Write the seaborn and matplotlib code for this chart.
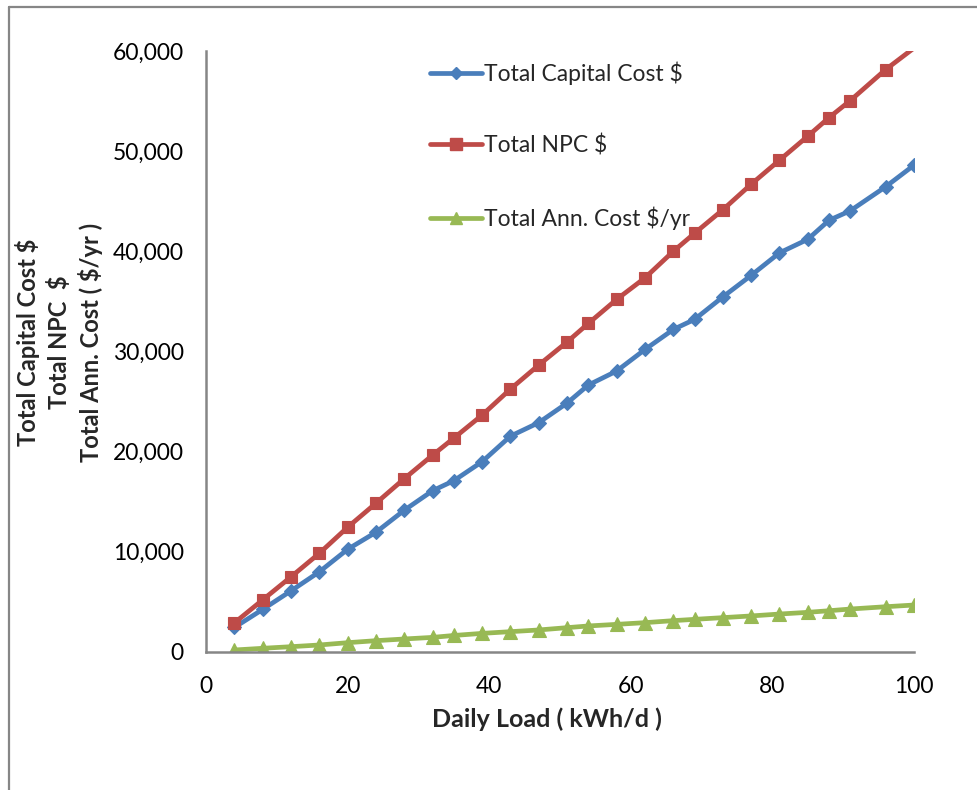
import matplotlib
matplotlib.use("Agg")
import matplotlib.pyplot as plt
from matplotlib.lines import Line2D
from matplotlib.ticker import FuncFormatter, MultipleLocator
import pandas as pd
import seaborn as sns

# Daily load (kWh/d) and the three cost series
daily_load = [4, 8, 12, 16, 20, 24, 28, 32, 35, 39, 43, 47, 51, 54, 58, 62, 66, 69,
              73, 77, 81, 85, 88, 91, 96, 100]
capital_cost = [2450, 4250, 6100, 8000, 10250, 11950, 14150, 16100, 17100, 19000,
                21550, 22900, 24850, 26650, 28050, 30200, 32200, 33200, 35450, 37600,
                39850, 41200, 43100, 44050, 46450, 48600]
npc = [2900, 5200, 7500, 9850, 12450, 14850, 17300, 19650, 21350, 23650, 26250,
       28650, 30950, 32800, 35200, 37350, 40000, 41800, 44150, 46700, 49100, 51500,
       53350, 55050, 58150, 60300]
annual_cost = [200, 370, 530, 700, 930, 1130, 1300, 1460, 1650, 1860, 2030, 2200,
               2430, 2600, 2760, 2930, 3130, 3260, 3430, 3600, 3790, 3960, 4120,
               4290, 4520, 4690]

series_names = ["Total Capital Cost $", "Total NPC $", "Total Ann. Cost $/yr"]
series_values = [capital_cost, npc, annual_cost]
colors = ["#4A7EBB", "#BE4B48", "#98B954"]
markers = ["D", "s", "^"]
marker_sizes = [6.8, 9.0, 9.5]

y_max = 60000

sns.set_theme(style="white")
plt.rcParams["font.family"] = ["Lato", "DejaVu Sans"]

fig = plt.figure(figsize=(9.78, 7.9), dpi=100)
ax = fig.add_axes([206 / 978, 1 - 652 / 790, (914 - 206) / 978, (652 - 51) / 790])

for name, vals, col, mk, ms in zip(series_names, series_values, colors, markers, marker_sizes):
    df = pd.DataFrame({"load": daily_load, "cost": vals})
    shown = [i for i, v in enumerate(vals) if v <= y_max]
    sns.lineplot(data=df, x="load", y="cost", ax=ax, color=col, linewidth=3.4,
                 marker=mk, markersize=ms, markeredgecolor=col, markeredgewidth=0.8,
                 markevery=shown, label=name, legend=False)

ax.set_xlim(0, 100)
ax.set_ylim(0, y_max)
ax.xaxis.set_major_locator(MultipleLocator(20))
ax.yaxis.set_major_locator(MultipleLocator(10000))
ax.yaxis.set_major_formatter(FuncFormatter(lambda v, p: f"{int(v):,}"))
ax.tick_params(axis="both", length=0, labelsize=16.5, colors="black")
ax.tick_params(axis="x", pad=17)
ax.tick_params(axis="y", pad=16)

for side in ["top", "right"]:
    ax.spines[side].set_visible(False)
for side in ["left", "bottom"]:
    ax.spines[side].set_color("#868686")
    ax.spines[side].set_linewidth(1.8)

ax.set_xlabel("Daily Load ( kWh/d )", fontsize=18, fontweight="bold")
ax.xaxis.set_label_coords(0.482, -0.092)
ax.set_ylabel("Total Capital Cost $\nTotal NPC  $\nTotal Ann. Cost ( $/yr )",
              fontsize=17, fontweight="bold", linespacing=1.34,
              multialignment="center")
ax.yaxis.set_label_coords(-0.145, 0.515)

handles = [Line2D([], [], color=c, lw=3.4, marker=m, markersize=s * 0.9,
                  markeredgecolor=c) for c, m, s in zip(colors, markers, marker_sizes)]
ax.legend(handles, series_names, loc="upper left", bbox_to_anchor=(0.316, 0.983),
          frameon=False, fontsize=16.5, labelspacing=2.17, handlelength=2.27,
          handletextpad=0.1, borderpad=0, borderaxespad=0)

# chart-area border
fig.add_artist(Line2D([8.5 / 978, 8.5 / 978], [0, 1 - 6.7 / 790], color="#868686",
                      lw=1.6, transform=fig.transFigure))
fig.add_artist(Line2D([8.5 / 978, 1], [1 - 6.7 / 790, 1 - 6.7 / 790], color="#868686",
                      lw=1.6, transform=fig.transFigure))

fig.savefig("out.png", dpi=100)
